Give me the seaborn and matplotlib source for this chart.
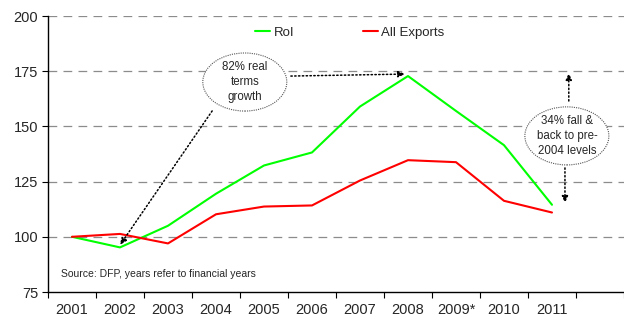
import matplotlib
matplotlib.use("Agg")
import matplotlib.pyplot as plt
from matplotlib.patches import Ellipse
from matplotlib.ticker import FixedLocator, NullFormatter
import seaborn as sns
import pandas as pd

years = ["2001", "2002", "2003", "2004", "2005", "2006", "2007", "2008", "2009*", "2010", "2011"]
roi = [100, 95.2, 105, 119.5, 132.3, 138.2, 159, 172.8, 157, 141.5, 114.5]
all_exports = [100, 101.3, 97, 110.2, 113.7, 114.2, 125.5, 134.7, 133.8, 116.3, 111]
series_names = ["RoI", "All Exports"]
series_colors = ["#00FF00", "#FF0000"]

df = pd.concat([
    pd.DataFrame({"year": years, "value": roi, "series": series_names[0]}),
    pd.DataFrame({"year": years, "value": all_exports, "series": series_names[1]}),
])

sns.set_style("white")
plt.rcParams["font.family"] = ["Liberation Sans", "DejaVu Sans"]

fig = plt.figure(figsize=(6.24, 3.27), dpi=100)
ax = fig.add_axes([48 / 624, 1 - 292 / 327, 1 - 48 / 624, (292 - 16) / 327])

sns.lineplot(data=df, x="year", y="value", hue="series", sort=False,
             palette=dict(zip(series_names, series_colors)), linewidth=1.5,
             ax=ax, legend=True)

ax.set_xlim(-0.5, 11.5)
ax.set_ylim(75, 200)
ax.set_yticks([75, 100, 125, 150, 175, 200])
ax.set_xticks(range(len(years)))
ax.set_xticklabels(years)
ax.xaxis.set_minor_locator(FixedLocator([i - 0.5 for i in range(13)]))
ax.xaxis.set_minor_formatter(NullFormatter())
ax.tick_params(axis="x", which="major", length=0, labelsize=10.5, pad=8)
ax.tick_params(axis="x", which="minor", length=4, width=0.8, color="black", bottom=True)
ax.tick_params(axis="y", length=4, width=0.8, color="black", labelsize=10.5, left=True, pad=3)
ax.set_xlabel("")
ax.set_ylabel("")

for v in [100, 125, 150, 175, 200]:
    ax.axhline(v, color="#8c8c8c", linewidth=0.9, dashes=(7, 5), zorder=0)

for s in ["top", "right"]:
    ax.spines[s].set_visible(False)
for s in ["left", "bottom"]:
    ax.spines[s].set_color("black")
    ax.spines[s].set_linewidth(1.0)

leg = ax.legend(loc="center", bbox_to_anchor=(350 / 624, 1 - 33 / 327),
                bbox_transform=fig.transFigure, ncol=2, frameon=False,
                fontsize=9.5, handlelength=1.15, handletextpad=0.25, columnspacing=5.2)

# Callout ellipses (white fill hides the gridlines behind them)
ax.add_patch(Ellipse((3.60, 170.1), 1.75, 26.3, facecolor="white", edgecolor="#555555",
                     linestyle=(0, (1, 1)), linewidth=0.8, zorder=3))
ax.text(3.60, 170.1, "82% real\nterms\ngrowth", ha="center", va="center",
        fontsize=8.3, linespacing=1.3, zorder=4)
ax.add_patch(Ellipse((10.31, 145.7), 1.75, 26.3, facecolor="white", edgecolor="#555555",
                     linestyle=(0, (1, 1)), linewidth=0.8, zorder=3))
ax.text(10.31, 145.7, "34% fall &\nback to pre-\n2004 levels", ha="center", va="center",
        fontsize=8.3, linespacing=1.3, zorder=4)

arrow_style = dict(arrowstyle="-|>,head_length=0.4,head_width=0.18", color="black",
                   linestyle=(0, (0.9, 1.6)), linewidth=1.1, shrinkA=0, shrinkB=0)
ax.annotate("", xy=(1.0, 96.3), xytext=(2.92, 157), arrowprops=arrow_style)
ax.annotate("", xy=(6.94, 173.7), xytext=(4.56, 172.8), arrowprops=arrow_style)
ax.annotate("", xy=(10.35, 174.2), xytext=(10.35, 161.5), arrowprops=arrow_style)
ax.annotate("", xy=(10.27, 115.3), xytext=(10.27, 131.2), arrowprops=arrow_style)

ax.text(-0.23, 83.2, "Source: DFP, years refer to financial years", ha="left", va="center",
        fontsize=7.5)

fig.savefig("out.png", dpi=100)
